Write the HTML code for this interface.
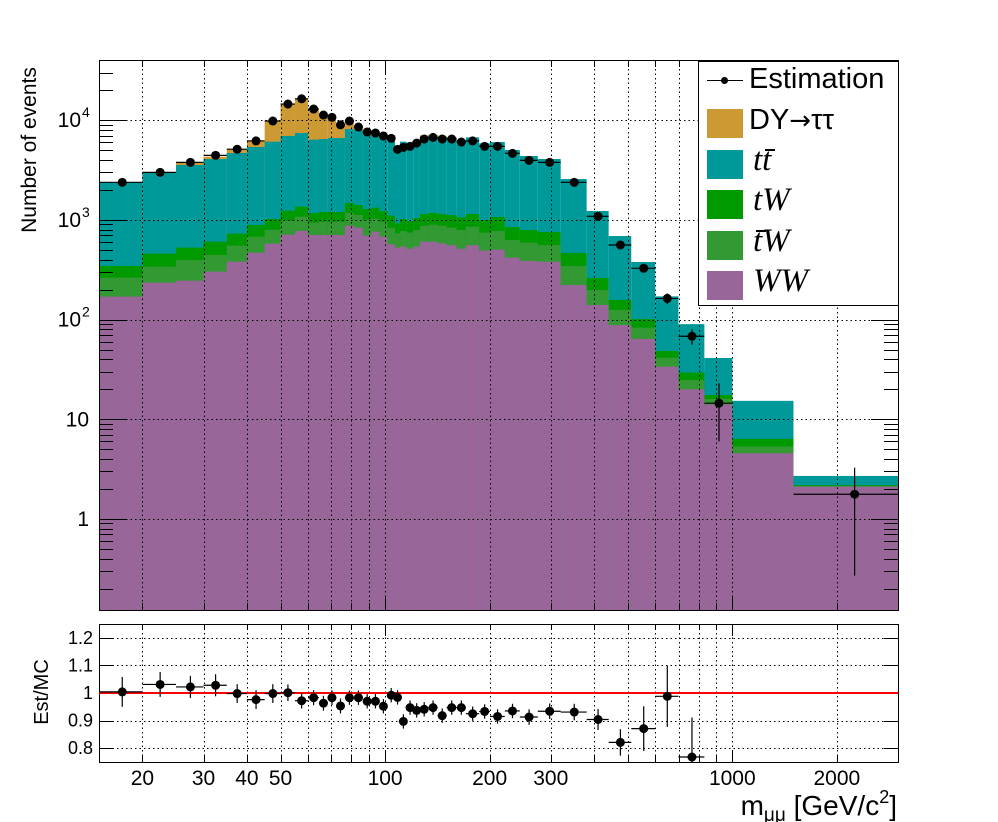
<!DOCTYPE html>
<html><head><meta charset="utf-8">
<style>
html,body{margin:0;padding:0;background:#fff;}
#wrap{position:relative;width:998px;height:822px;overflow:hidden;font-family:"Liberation Sans",sans-serif;}
svg{position:absolute;left:0;top:0;}
.leg{position:absolute;font-size:29px;color:#000;white-space:nowrap;}
.it{font-family:"Liberation Serif",serif;font-style:italic;font-size:33px;}
.bt{position:relative;display:inline-block;}
.bar{position:absolute;left:3px;top:7px;width:10px;height:2px;background:#000;}
</style></head>
<body>
<div id="wrap">
<svg id="svg" width="998" height="822" viewBox="0 0 998 822" xmlns="http://www.w3.org/2000/svg"></svg>
<div style="position:absolute;left:698px;top:61px;width:199px;height:243px;border:1px solid #000;background:#fff;">
  <div>
    <div style="position:absolute;left:8px;top:18px;width:36px;height:1px;background:#000"></div>
    <div style="position:absolute;left:22px;top:15px;width:7px;height:7px;border-radius:50%;background:#000"></div>
    <div class="leg" style="left:50px;top:1px">Estimation</div>
  </div>
  <div>
    <div style="position:absolute;left:8px;top:47px;width:36px;height:29px;background:#cc9933"></div>
    <div class="leg" style="left:50px;top:42px">DY<span style="font-family:'DejaVu Sans',sans-serif;font-size:26px">→</span>ττ</div>
  </div>
  <div>
    <div style="position:absolute;left:8px;top:88px;width:36px;height:29px;background:#009999"></div>
    <div class="leg it" style="left:54px;top:80px">t<span class="bt">t<span class="bar"></span></span></div>
  </div>
  <div>
    <div style="position:absolute;left:8px;top:128px;width:36px;height:29px;background:#009900"></div>
    <div class="leg it" style="left:54px;top:120px">tW</div>
  </div>
  <div>
    <div style="position:absolute;left:8px;top:169px;width:36px;height:29px;background:#339933"></div>
    <div class="leg it" style="left:54px;top:161px"><span class="bt">t<span class="bar"></span></span>W</div>
  </div>
  <div>
    <div style="position:absolute;left:8px;top:209px;width:36px;height:29px;background:#996699"></div>
    <div class="leg it" style="left:54px;top:201px">WW</div>
  </div>
</div>
</div>
<script>
const binEdges=[15,20,25,30,35,40,45,50,55,60,64.5,68.4,72.2,76.6,81.3,86.3,91.3,96.3,101.5,106.8,110.4,115.4,120.6,126,133.2,141.7,150.4,160.7,170.9,186.6,200.4,221.2,244.3,275.3,320.4,380.6,440.4,511.6,599.7,699.6,830.8,1000,1500,3000];
const wwVals=[170,235,246,303,381,469,578,711,774,706,706,706,706,875,836,695,762,679,569,527,539,514,539,605,605,582,556,514,556,491,503,418,387,381,222,140,88,64,33.7,20,14.1,4.56,2.11];
const tbarWVals=[94,105,150,141,171,210,220,271,303,232,254,254,254,307,284,310,267,281,267,206,235,231,253,270,291,293,280,278,299,254,271,211,204,179,123,58,37,19,7.8,4.8,1.9,0.76,0.03];
const tWVals=[81,119,131,161,176,210,223,256,281,235,240,240,240,295,290,280,298,268,267,191,247,230,253,271,277,271,284,269,291,253,295,220,201,196,121,63,32,18,6.9,4.6,1.5,1.03,0.04];
const ttVals=[2037,2541,3029,3478,3962,4496,5071,5712,6089,5207,5275,5425,5425,6683,6570,6335,6058,5352,5477,4176,5071,4885,4953,5694,5777,5584,5610,5269,5584,4862,4971,4176,3583,3327,2104,967,532,277,122.6,60.6,23.7,8.95,0.52];
const dyVals=[0,20,222,223,410,895,3728,7580,9113,6570,4985,4065,2535,1960,720,230,285,0,0,0,0,0,0,210,150,270,0,0,0,0,0,0,0,0,0,0,0,0,0,0,0,0,0];
const dataVals=[2382,3000,3778,4443,5120,6200,9820,14530,16400,12950,11280,10690,9000,9820,8550,7620,7440,6950,6580,5100,5346,5470,5900,6475,6730,6475,6475,6040,6200,5470,5470,4654,3958,3778,2382,1086,560,327,163,68,14.5,null,1.77];
const dataErr=[130,135,150,180,175,210,330,440,480,380,330,300,260,280,240,220,210,200,190,160,170,170,170,180,190,180,180,170,180,160,160,140,120,120,80,45,30,30,20,12,8.5,0,1.5];
const ratioVals=[1.004,1.031,1.022,1.028,0.998,0.976,0.998,1.001,0.972,0.983,0.963,0.983,0.953,0.983,0.983,0.970,0.970,0.952,0.992,0.984,0.897,0.947,0.937,0.941,0.947,0.918,0.947,0.947,0.925,0.933,0.915,0.935,0.913,0.934,0.931,0.904,0.821,0.871,0.988,0.768,null,null,null];
const ratioErr=[0.054,0.045,0.04,0.04,0.034,0.034,0.034,0.03,0.028,0.027,0.027,0.027,0.027,0.026,0.026,0.026,0.026,0.026,0.026,0.026,0.026,0.026,0.026,0.026,0.026,0.026,0.026,0.026,0.026,0.026,0.026,0.026,0.028,0.028,0.03,0.038,0.048,0.081,0.111,0.143,0,0,0];
const xTickLabels=["20","30","40","50","100","200","300","1000","2000"];
const xTickVals=[20,30,40,50,100,200,300,1000,2000];
const yTickExps=[0,1,2,3,4];
const rTickVals=[0.8,0.9,1.0,1.1,1.2];
const rTickLabels=["0.8","0.9","1","1.1","1.2"];

const NS="http://www.w3.org/2000/svg";
const svg=document.getElementById('svg');
const L=99,R=898,T=60,B=610,RT=624,RB=762;
const yMin=0.122,yMax=40200;
function xS(v){return L+(R-L)*(Math.log10(v)-Math.log10(15))/(Math.log10(3000)-Math.log10(15));}
function yS(v){if(v<=yMin)return B;return B-(B-T)*(Math.log10(v)-Math.log10(yMin))/(Math.log10(yMax)-Math.log10(yMin));}
function rS(r){return RB-(RB-RT)*(r-0.75)/(1.25-0.75);}
function mk(tag,attrs,parent){const e=document.createElementNS(NS,tag);for(const k in attrs)e.setAttribute(k,attrs[k]);(parent||svg).appendChild(e);return e;}

const gStack=mk('g',{});


const series=[["ww",wwVals,"#996699"],["tbarw",tbarWVals,"#339933"],["tw",tWVals,"#009900"],["ttbar",ttVals,"#009999"],["dy",dyVals,"#cc9933"]];
const cum=new Array(wwVals.length).fill(0);
const tops=series.map(s=>{const base=cum.slice();for(let i=0;i<cum.length;i++)cum[i]+=s[1][i];return [s,base,cum.slice()];});
for(let k=tops.length-1;k>=0;k--){
  const [s,base,top]=tops[k];
  for(let i=0;i<top.length;i++){
    if(s[1][i]<=0)continue;
    const x0=xS(binEdges[i]),x1=xS(binEdges[i+1]);
    const y1=Math.max(T,yS(top[i]));
    const r=mk('rect',{x:x0,y:y1,width:x1-x0,height:B-y1,fill:s[2]},gStack);
    
    
  }
}

function grid(y0,y1,hs){
  const g=mk('g',{stroke:'#000','stroke-width':1,'stroke-dasharray':'1.5,3',fill:'none'});
  
  
  const gv=[20,30,40,50,60,70,80,90,100,200,300,400,500,600,700,800,900,1000,2000];
  gv.forEach(v=>{const x=Math.round(xS(v))+0.5;mk('line',{x1:x,x2:x,y1:y0,y2:y1},g);});
  hs.forEach(y=>{y=Math.round(y)+0.5;mk('line',{x1:L,x2:R,y1:y,y2:y},g);});
}
grid(T,B,yTickExps.map(e=>yS(Math.pow(10,e))));
grid(RT,RB,rTickVals.map(rS));

const f1=mk('rect',{x:L+0.5,y:T+0.5,width:R-L,height:B-T,fill:'none',stroke:'#000','stroke-width':1});


const f2=mk('rect',{x:L+0.5,y:RT+0.5,width:R-L,height:RB-RT,fill:'none',stroke:'#000','stroke-width':1});



const gT=mk('g',{stroke:'#000','stroke-width':1});


for(let d=10;d<=1000;d*=10){for(let m=1;m<=9;m++){const v=d*m;if(v<15||v>3000)continue;
  const x=Math.round(xS(v))+0.5;const big=(m===1);
  mk('line',{x1:x,x2:x,y1:B,y2:B-(big?14:7)},gT);mk('line',{x1:x,x2:x,y1:T,y2:T+(big?14:7)},gT);
  mk('line',{x1:x,x2:x,y1:RB,y2:RB-(big?12:6)},gT);mk('line',{x1:x,x2:x,y1:RT,y2:RT+(big?12:6)},gT);
}}
for(let e=-1;e<=4;e++){for(let m=1;m<=9;m++){const v=Math.pow(10,e)*m;if(v<yMin||v>yMax)continue;
  const y=Math.round(yS(v))+0.5;const big=(m===1);
  mk('line',{x1:L,x2:L+(big?27:14),y1:y,y2:y},gT);mk('line',{x1:R,x2:R-(big?27:14),y1:y,y2:y},gT);
}}
rTickVals.forEach(v=>{const y=Math.round(rS(v))+0.5;mk('line',{x1:L,x2:L+14,y1:y,y2:y},gT);mk('line',{x1:R,x2:R-14,y1:y,y2:y},gT);});

const gD=mk('g',{});


for(let i=0;i<dataVals.length;i++){const v=dataVals[i];if(v==null)continue;
  const x0=xS(binEdges[i]),x1=xS(binEdges[i+1]);const xm=xS((binEdges[i]+binEdges[i+1])/2);
  const y=yS(v);
  const g=mk('g',{stroke:'#000','stroke-width':1.2},gD);
  
  
  mk('line',{x1:x0,x2:x1,y1:y,y2:y},g);
  mk('line',{x1:xm,x2:xm,y1:yS(v+dataErr[i]),y2:Math.min(B,yS(Math.max(v-dataErr[i],1e-9)))},g);
  mk('circle',{cx:xm,cy:y,r:4.5,fill:'#000',stroke:'none'},g);
}

const rl=mk('line',{x1:L,x2:R,y1:rS(1),y2:rS(1),stroke:'#ff0000','stroke-width':2});


const gR=mk('g',{});


for(let i=0;i<ratioVals.length;i++){const v=ratioVals[i];if(v==null)continue;
  const x0=xS(binEdges[i]),x1=xS(binEdges[i+1]);const xm=xS((binEdges[i]+binEdges[i+1])/2);const y=rS(v);
  const g=mk('g',{stroke:'#000','stroke-width':1.2},gR);
  
  
  mk('line',{x1:x0,x2:x1,y1:y,y2:y},g);
  mk('line',{x1:xm,x2:xm,y1:Math.max(RT,rS(v+ratioErr[i])),y2:Math.min(RB,rS(v-ratioErr[i]))},g);
  mk('circle',{cx:xm,cy:y,r:4.5,fill:'#000',stroke:'none'},g);
}

function txt(s,x,y,attrs,name){const t=mk('text',Object.assign({x:x,y:y,'font-family':'Liberation Sans, sans-serif','font-size':21,fill:'#000'},attrs||{}));t.textContent=s;return t;}
xTickLabels.forEach((s,i)=>txt(s,xS(xTickVals[i]),785,{'text-anchor':'middle'},'x-tick-label-'+s));
yTickExps.forEach(e=>{const y=yS(Math.pow(10,e))+7;
  if(e===0)txt('1',89,y,{'text-anchor':'end'},'y-tick-label-1');
  else if(e===1)txt('10',89,y,{'text-anchor':'end'},'y-tick-label-10');
  else{txt('10',81,y,{'text-anchor':'end'},'y-tick-label-1e'+e);
    txt(String(e),82,y-10,{'font-size':14},'y-tick-exp-'+e);}
});
rTickVals.forEach((v,i)=>txt(rTickLabels[i],93,rS(v)+6,{'text-anchor':'end','font-size':18},'ratio-tick-label-'+rTickLabels[i]));
txt('Number of events',36,150,{'text-anchor':'middle','font-size':21,transform:'rotate(-90 36 150)'},'y-axis-title');
txt('Est/MC',48,692,{'text-anchor':'middle','font-size':20,transform:'rotate(-90 48 692)'},'ratio-axis-title');
const xt=mk('text',{x:897,y:815,'text-anchor':'end','font-family':'Liberation Sans, sans-serif','font-size':28,fill:'#000'});


xt.innerHTML='m<tspan font-size="19" dy="6">μμ</tspan><tspan dy="-6"> [GeV/c</tspan><tspan font-size="18" dy="-12">2</tspan><tspan dy="12">]</tspan>';
</script>
</body></html>
